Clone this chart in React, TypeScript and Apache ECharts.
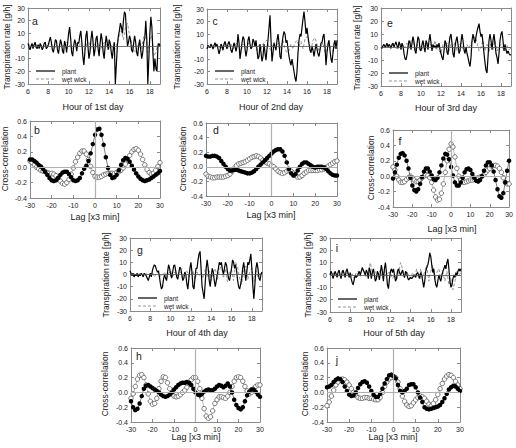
import React, { useEffect, useRef } from "react";
import * as echarts from "echarts";

// ---------- data ----------
const HOUR_START = 6;
const HOUR_END = 19;
const PLANT_STEP = 0.1;
const WICK_STEP = 0.2;
const LAG_MIN = -30;
const LAG_MAX = 30;

const dayTitles = ["Hour of 1st day", "Hour of 2nd day", "Hour of 3rd day", "Hour of 4th day", "Hour of 5th day"];
const seriesNames = ["plant", "wet wick"];
const yTitleTs = "Transpiration rate [g/h]";
const yTitleCc = "Cross-correlation";
const xTitleCc = "Lag [x3 min]";

// plant transpiration, every 0.1 h from 6 to 19
const plantDay1 = [
  2, -1, -3, 0, 2, -2, 1, 3, -1, -2,
  1, -2, 2, 0, -3, -1, 2, 3, -2, -1,
  1, 4, 7, 3, -3, -5, 0, 5, 4, -3,
  -6, 0, 5, 2, -4, -6, 4, 1, -5, 2,
  10, 15, 6, -5, -8, 0, 5, 2, -4, 3,
  2, 8, 12, 3, -8, -15, -5, 8, 12, 0,
  -10, -5, 5, 12, 4, -8, -3, 6, 8, -2,
  -8, 2, 10, 5, -5, -10, 0, 8, 3, -3,
  5, 2, -5, -10, -2, 3, -30, -15, 0, 8,
  12, 18, 15, 10, 20, 27, 25, 10, 0, 3,
  8, 5, -3, -5, 2, 8, 3, -5, -8, 0,
  5, -3, -10, -5, 3, 6, 20, 5, -30, -10,
  10, 23, 15, -5, -20, -10, -18, -20, 0, 2,
  0,
];
const plantDay2 = [
  -2, 1, 0, -1, 2, 0, -2, 1, 3, 0,
  2, -2, -6, -3, 2, 0, -3, 2, 4, 1,
  -2, 2, 4, 1, -3, -5, -1, 3, 0, -4,
  0, 10, 3, -10, -4, 3, 8, 6, -2, -8,
  -3, 5, 8, 2, -2, 0, 6, 4, 0, 5,
  -3, -10, -8, 2, -5, -12, -8, 2, -5, -11,
  -2, 5, 15, 25, 5, -12, -5, 3, 0, -3,
  5, 10, 3, -8, -10, 2, 8, 12, 10, 3,
  5, -2, -8, -12, -15, -10, -15, -20, -25, -28,
  -20, -5, 5, 10, 8, 15, 22, 28, 20, 10,
  15, 8, 2, -3, -5, 0, -3, -8, -3, 2,
  -2, -6, -8, -3, 3, 3, 8, 10, 0, -15,
  -5, 2, 5, -3, -10, -13, -5, 2, 5, -2,
  5,
];
const plantDay3 = [
  0, -1, 1, 2, 0, 1, 3, 0, 2, 1,
  -1, 2, 3, 0, 2, 4, 1, -1, 4, 2,
  -2, 3, 1, -5, -9, -10, -6, 0, 5, 3,
  -2, 3, 8, 4, -3, -5, 2, 8, 6, -2,
  -3, 2, 5, 0, -4, 5, 3, -2, 5, 10,
  3, -3, 2, 0, 1, -1, 2, 0, 3, -2,
  -5, -8, -10, -3, 5, 3, -4, -6, 2, 8,
  10, 3, -5, -8, 0, 5, 8, 2, -5, -3,
  4, 10, 5, -2, -5, 0, -5, -8, -12, -15,
  -8, 5, 10, 6, 3, 8, 12, 15, 18, 12,
  8, 10, 3, -5, -12, -18, -20, -8, 5, 10,
  5, -2, 5, 10, 3, -5, -8, -13, -5, 5,
  10, 12, 5, -3, 2, -2, -5, -3, -5, -6,
  -6,
];
const plantDay4 = [
  3, 1, -1, 1, -2, 0, -1, 1, -2, 0,
  -1, 1, 0, -2, 1, 0, -1, -3, -5, -2,
  1, -2, 3, 6, 8, 7, 4, 2, 3, -2,
  -8, -12, -10, -4, 0, -3, -5, 2, 8, 5,
  0, -3, 2, 7, 8, 3, -2, -4, 1, 6,
  5, 0, -5, -3, 2, 0, -8, -12, -3, 5,
  10, 2, -10, -12, -3, 5, 5, 12, 17, 19,
  5, -10, -15, -20, -8, 5, 12, 5, -5, -10,
  -2, 5, 2, -5, -10, -5, 0, 5, 10, 8,
  10, 4, 0, 5, 10, 8, 2, -3, -5, 0,
  5, 12, 10, 5, 8, 3, -5, -10, -12, -8,
  -3, 5, 10, 3, -5, 2, 10, 8, 12, 17,
  5, -10, -20, -8, 5, 10, 5, -3, -5, 0,
  2,
];
const plantDay5 = [
  0, 3, 1, -3, 0, 3, 1, -2, 2, 4,
  0, -3, 2, 4, 1, -2, 3, 5, 1, -2,
  2, -3, -6, -8, -4, 0, -2, -1, 1, 3,
  0, 3, 6, 4, 2, 0, 4, 2, -3, 6,
  3, -3, 2, 5, 0, -5, -3, 3, 1, -4,
  2, 8, 3, -5, 5, 10, 2, -8, -11, -3,
  3, 5, 2, 5, 0, -5, -3, 3, 5, 2,
  0, 2, 4, 0, -2, 3, 2, -2, -4, -3,
  -2, -3, -2, -1, 0, -2, 1, 2, 0, -3,
  2, 0, -5, -10, -5, 3, 6, 8, 12, 18,
  15, 8, 2, 5, -3, -8, -10, -5, 0, -3,
  -5, 0, 3, 5, 8, 5, 10, 13, 5, -5,
  -10, -8, -3, 0, -2, 2, 0, 3, 5, 3,
  5,
];

// wet wick evaporation, every 0.2 h from 6 to 19
const wickDay1 = [
  0, 1, -1, 0, 1, 0, -1, 1, 0, -1, 1, 2, 0, -2, 1, -1, 2, 0, 1, 3,
  2, -1, -2, 1, 2, 0, 2, -1, -3, 2, 3, -2, 0, 2, -1, 1, -2, 2, 3, 0,
  -2, 1, -3, -2, 3, 8, 12, 5, 15, 18, 8, 2, -3, -5, 0, 3, -2, 8, 10, -5,
  5, 8, -8, -5, 2, 0,
];
const wickDay2 = [
  0, -1, 1, 0, -1, 1, 0, -2, 1, 2, -1, 0, 2, -2, 1, 3, -2, -4, 2, 1,
  -1, 3, -2, 0, 2, -3, 1, -2, 2, 4, 5, -1, -3, 2, -2, 1, 3, -3, 5, -2,
  -5, -3, 2, -2, 3, 5, 0, 4, -2, 6, 8, 3, -3, 5, 7, 2, -4, 0, 3, -5,
  -3, 2, -2, -4, 0, 2,
];
const wickDay3 = [
  1, 0, -1, 1, 0, -1, 2, 0, -2, 1, 2, -1, 0, 3, -2, 5, 7, -3, 2, -1,
  1, -2, 3, -1, 0, 2, -1, 5, -2, -3, -5, 2, -1, 3, -3, 2, -1, 4, -3, 1,
  3, -2, -4, 2, -1, 3, 5, 8, 4, -3, 0, 5, -3, 2, -4, 3, -2, 5, -3, 0,
  2, -1, -3, 1, -2, -1,
];
const wickDay4 = [
  -1, 0, 1, -1, 0, 1, -1, 0, 1, -1, 0, 2, -2, 1, 3, -2, 0, 2, -3, 1,
  3, -2, 2, -1, 0, 2, -3, 1, 3, -2, 0, 3, -4, 2, -1, 1, -3, 4, -2, 3,
  -5, 2, 5, -4, 3, 8, -3, 5, -6, 2, 4, -5, 10, 6, -3, -8, 3, 7, -4, 2,
  5, -6, 3, -2, 1, 0,
];
const wickDay5 = [
  1, -1, 2, 0, -2, 1, 3, -1, 0, 2, -2, 1, -3, 2, 3, -1, 5, 3, -2, 3,
  10, 2, 5, -3, 1, 4, -2, 3, -1, 2, 2, -3, 0, -4, 2, 10, 5, -2, 3, 0,
  -3, 2, -2, 5, -3, 5, -2, 3, 8, -5, 3, 8, -4, 2, 5, -3, 2, -5, 3, -8,
  -3, -12, -5, 3, 0, 2,
];

// cross-correlation at lags -30..30 (filled and open symbols)
const ccFilledB = [
  0.10, 0.10, 0.08, 0.06, 0.03, 0.01, -0.02, -0.06, -0.10, -0.14,
  -0.17, -0.18, -0.17, -0.14, -0.10, -0.07, -0.06, -0.06, -0.09, -0.13,
  -0.17, -0.18, -0.17, -0.14, -0.08, -0.02, 0.02, 0.08, 0.18, 0.30,
  0.42,
  0.49, 0.50, 0.42, 0.29, 0.13, -0.01, -0.10, -0.14, -0.13, -0.10,
  -0.04, 0.03, 0.09, 0.12, 0.11, 0.07, 0.02, -0.03, -0.08, -0.12,
  -0.15, -0.17, -0.18, -0.17, -0.16, -0.14, -0.12, -0.10, -0.08, -0.05,
];
const ccOpenB = [
  0.08, 0.06, 0.03, 0.00, -0.02, -0.04, -0.05, -0.06, -0.07, -0.08,
  -0.08, -0.09, -0.11, -0.14, -0.18, -0.21, -0.22, -0.20, -0.16, -0.09,
  -0.01, 0.07, 0.13, 0.18, 0.21, 0.21, 0.17, 0.10, 0.01, -0.07,
  -0.12,
  -0.13, -0.13, -0.12, -0.10, -0.09, -0.08, -0.08, -0.08, -0.08, -0.07,
  -0.06, -0.04, -0.01, 0.04, 0.10, 0.15, 0.20, 0.23, 0.24, 0.22,
  0.17, 0.10, 0.03, -0.03, -0.07, -0.09, -0.08, -0.04, 0.01, 0.06,
];
const ccFilledD = [
  0.15, 0.14, 0.14, 0.15, 0.15, 0.14, 0.12, 0.08, 0.04, 0.00,
  -0.03, -0.05, -0.05, -0.04, -0.04, -0.05, -0.06, -0.07, -0.08, -0.09,
  -0.09, -0.08, -0.06, -0.03, 0.00, 0.03, 0.06, 0.09, 0.12, 0.15,
  0.18,
  0.21, 0.23, 0.24, 0.24, 0.21, 0.15, 0.06, -0.03, -0.09, -0.12,
  -0.10, -0.05, 0.00, 0.04, 0.06, 0.06, 0.04, 0.02, 0.00, -0.01,
  0.00, 0.00, 0.00, -0.01, -0.03, -0.06, -0.09, -0.11, -0.12, -0.12,
];
const ccOpenD = [
  -0.10, -0.13, -0.14, -0.15, -0.15, -0.14, -0.14, -0.14, -0.14, -0.13,
  -0.12, -0.10, -0.06, -0.02, 0.02, 0.04, 0.05, 0.06, 0.07, 0.09,
  0.11, 0.13, 0.14, 0.15, 0.14, 0.12, 0.09, 0.07, 0.05, 0.04,
  0.02,
  0.00, -0.03, -0.06, -0.08, -0.09, -0.08, -0.06, -0.05, -0.06, -0.09,
  -0.12, -0.14, -0.14, -0.12, -0.09, -0.07, -0.05, -0.05, -0.05, -0.05,
  -0.05, -0.04, -0.04, -0.03, -0.01, 0.01, 0.03, 0.05, 0.07, 0.08,
];
const ccFilledF = [
  -0.03, 0.05, 0.15, 0.24, 0.29, 0.30, 0.27, 0.20, 0.10, -0.02,
  -0.12, -0.18, -0.20, -0.17, -0.10, -0.01, 0.06, 0.10, 0.10, 0.06,
  0.01, -0.04, -0.05, -0.02, 0.05, 0.14, 0.23, 0.29, 0.28, 0.22,
  0.12,
  0.01, -0.08, -0.12, -0.12, -0.08, -0.02, 0.05, 0.09, 0.10, 0.08,
  0.03, -0.02, -0.06, -0.07, -0.05, 0.00, 0.07, 0.14, 0.18, 0.18,
  0.14, 0.06, -0.05, -0.17, -0.26, -0.28, -0.22, -0.08, 0.07, 0.20,
];
const ccOpenF = [
  0.12, 0.08, 0.00, -0.05, -0.08, -0.08, -0.07, -0.04, -0.02, 0.00,
  -0.02, -0.05, -0.07, -0.07, -0.05, -0.02, 0.00, 0.02, 0.01, -0.02,
  -0.08, -0.18, -0.27, -0.31, -0.30, -0.22, -0.10, 0.05, 0.20, 0.35,
  0.42,
  0.38, 0.25, 0.10, 0.00, -0.05, -0.08, -0.08, -0.07, -0.06, -0.05,
  -0.05, -0.04, -0.03, -0.02, -0.01, 0.00, 0.02, 0.05, 0.08, 0.10,
  0.13, 0.14, 0.14, 0.13, 0.10, 0.05, -0.02, -0.08, -0.10, -0.10,
];
const ccFilledH = [
  -0.12, -0.20, -0.24, -0.22, -0.15, -0.05, 0.05, 0.09, 0.10, 0.08,
  0.06, 0.04, 0.02, 0.00, -0.03, -0.05, -0.06, -0.05, -0.03, 0.00,
  0.04, 0.07, 0.10, 0.12, 0.13, 0.13, 0.14, 0.13, 0.10, 0.05,
  0.00,
  -0.03, -0.04, -0.02, 0.01, 0.03, 0.04, 0.03, 0.03, 0.05, 0.08,
  0.10, 0.09, 0.07, 0.09, 0.12, 0.08, 0.00, -0.10, -0.17, -0.21,
  -0.23, -0.20, -0.12, -0.04, 0.01, 0.04, 0.04, 0.01, -0.03, -0.06,
];
const ccOpenH = [
  -0.08, -0.02, 0.08, 0.18, 0.23, 0.24, 0.20, 0.10, -0.02, -0.12,
  -0.16, -0.15, -0.08, 0.05, 0.15, 0.21, 0.20, 0.13, 0.05, -0.02,
  -0.05, -0.06, -0.05, -0.03, 0.00, 0.03, 0.07, 0.12, 0.17, 0.20,
  0.20,
  0.15, 0.05, -0.08, -0.22, -0.32, -0.35, -0.33, -0.25, -0.15, -0.10,
  -0.06, -0.06, -0.07, -0.08, -0.05, 0.00, 0.08, 0.15, 0.20, 0.21,
  0.20, 0.15, 0.08, 0.02, -0.02, 0.00, 0.05, 0.08, 0.10, 0.10,
];
const ccFilledJ = [
  0.07, 0.08, 0.10, 0.14, 0.17, 0.19, 0.18, 0.14, 0.08, 0.02,
  -0.03, -0.05, -0.04, 0.00, 0.06, 0.11, 0.14, 0.15, 0.13, 0.08,
  0.02, -0.03, -0.06, -0.06, -0.02, 0.05, 0.12, 0.18, 0.23, 0.24,
  0.22,
  0.19, 0.10, 0.02, 0.00, 0.02, 0.05, 0.10, 0.11, 0.11, 0.07,
  0.00, -0.07, -0.13, -0.20, -0.22, -0.23, -0.22, -0.21, -0.20, -0.19,
  -0.17, -0.13, -0.08, -0.02, 0.04, 0.07, 0.09, 0.08, 0.05, 0.02,
];
const ccOpenJ = [
  -0.18, -0.13, -0.05, 0.03, 0.10, 0.14, 0.17, 0.18, 0.17, 0.14,
  0.10, 0.05, 0.00, -0.04, -0.07, -0.08, -0.08, -0.07, -0.07, -0.08,
  -0.08, -0.09, -0.10, -0.10, -0.07, 0.00, 0.08, 0.14, 0.18, 0.20,
  0.21,
  0.20, 0.14, 0.05, -0.05, -0.12, -0.17, -0.19, -0.18, -0.14, -0.10,
  -0.07, -0.05, -0.06, -0.08, -0.12, -0.16, -0.18, -0.15, -0.10, -0.03,
  0.05, 0.12, 0.18, 0.22, 0.24, 0.23, 0.20, 0.15, 0.10, 0.05,
];

// ---------- layout & styles ----------
const FONT = "'Liberation Sans', Arial, Helvetica, sans-serif";
const FRAME = "#8a8a8a";
const TXT = "#1a1a1a";

type Box = { l: number; t: number; r: number; b: number; xt: number[]; yt: number[]; lt: number[] };
const LAYOUT: Record<string, Box> = {
  a: { l: 28, t: 8, r: 160, b: 84, xt: [93, 107], yt: [7, 47], lt: [35, 21] },
  c: { l: 207, t: 9, r: 337, b: 84, xt: [271, 107], yt: [177, 47], lt: [215, 21] },
  e: { l: 381, t: 8, r: 511, b: 86, xt: [446, 108], yt: [357, 48], lt: [390, 23] },
  g: { l: 130, t: 238, r: 262, b: 311, xt: [197, 333], yt: [106, 275], lt: [140, 250] },
  i: { l: 330, t: 238, r: 461, b: 312, xt: [394, 333], yt: [308, 275], lt: [337, 248] },
  b: { l: 30, t: 121, r: 160, b: 198, xt: [95, 217], yt: [5, 159], lt: [37, 130] },
  d: { l: 206, t: 123, r: 337, b: 196, xt: [271, 215], yt: [183, 159], lt: [216, 130] },
  f: { l: 393, t: 130, r: 511, b: 207, xt: [452, 229], yt: [371, 168], lt: [400, 141] },
  h: { l: 131, t: 348, r: 260, b: 422, xt: [196, 437], yt: [105, 384], lt: [139, 356] },
  j: { l: 327, t: 348, r: 460, b: 422, xt: [393, 437], yt: [305, 384], lt: [337, 360] },
};

type TsPanel = { kind: "ts"; key: string; plant: number[]; wick: number[]; title: string };
type CcPanel = { kind: "cc"; key: string; filled: number[]; open: number[] };
const PANELS: (TsPanel | CcPanel)[] = [
  { kind: "ts", key: "a", plant: plantDay1, wick: wickDay1, title: dayTitles[0] },
  { kind: "ts", key: "c", plant: plantDay2, wick: wickDay2, title: dayTitles[1] },
  { kind: "ts", key: "e", plant: plantDay3, wick: wickDay3, title: dayTitles[2] },
  { kind: "ts", key: "g", plant: plantDay4, wick: wickDay4, title: dayTitles[3] },
  { kind: "ts", key: "i", plant: plantDay5, wick: wickDay5, title: dayTitles[4] },
  { kind: "cc", key: "b", filled: ccFilledB, open: ccOpenB },
  { kind: "cc", key: "d", filled: ccFilledD, open: ccOpenD },
  { kind: "cc", key: "f", filled: ccFilledF, open: ccOpenF },
  { kind: "cc", key: "h", filled: ccFilledH, open: ccOpenH },
  { kind: "cc", key: "j", filled: ccFilledJ, open: ccOpenJ },
];

const toPairs = (vals: number[], start: number, step: number) =>
  vals.map((v, k) => [Math.round((start + k * step) * 100) / 100, v]);

function text(x: number, y: number, s: string, size: number, rot = 0, align = "center") {
  return {
    type: "text",
    x,
    y,
    rotation: rot,
    silent: true,
    style: {
      text: s,
      fontSize: size,
      fontFamily: FONT,
      fill: TXT,
      align,
      verticalAlign: "middle",
      textAlign: align,
      textVerticalAlign: "middle",
    },
  };
}

function buildOption() {
  const grid: any[] = [];
  const xAxis: any[] = [];
  const yAxis: any[] = [];
  const series: any[] = [];
  const elements: any[] = [];

  PANELS.forEach((p, i) => {
    const L = LAYOUT[p.key];
    grid.push({ left: L.l, top: L.t, width: L.r - L.l, height: L.b - L.t, show: false });
    const ts = p.kind === "ts";
    const axisLine = { show: true, onZero: false, lineStyle: { color: FRAME, width: 1 } };
    const tick = { show: true, inside: true, length: 3, lineStyle: { color: FRAME, width: 1 } };
    const label = { fontSize: 7, color: TXT, fontFamily: FONT, margin: 3 };
    const xr = ts ? { min: HOUR_START, max: HOUR_END, interval: 2 } : { min: LAG_MIN, max: LAG_MAX, interval: 10 };
    const yr = ts ? { min: -30, max: 30, interval: 10 } : { min: -0.4, max: 0.6, interval: 0.2 };
    xAxis.push({
      type: "value", gridIndex: i, position: "bottom", ...xr,
      axisLine, axisTick: tick, splitLine: { show: false },
      axisLabel: { ...label, margin: 4, showMaxLabel: !ts },
    });
    xAxis.push({
      type: "value", gridIndex: i, position: "top", ...xr,
      axisLine, axisTick: tick, splitLine: { show: false }, axisLabel: { show: false },
    });
    yAxis.push({
      type: "value", gridIndex: i, position: "left", ...yr,
      axisLine, axisTick: tick, splitLine: { show: false },
      axisLabel: {
        ...label,
        formatter: ts ? (v: number) => String(Math.round(v)) : (v: number) => (Math.abs(v) < 1e-9 ? "0.0" : v.toFixed(1)),
      },
    });
    yAxis.push({
      type: "value", gridIndex: i, position: "right", ...yr,
      axisLine, axisTick: tick, splitLine: { show: false }, axisLabel: { show: false },
    });
    const xi = 2 * i;
    const yi = 2 * i;

    if (p.kind === "ts") {
      series.push({
        type: "line", name: seriesNames[1], xAxisIndex: xi, yAxisIndex: yi,
        data: toPairs(p.wick, HOUR_START, WICK_STEP),
        showSymbol: false, symbol: "none", silent: true, z: 2,
        lineStyle: { color: "#888", width: 0.9, type: [3, 2] },
        markLine: {
          silent: true, symbol: "none", label: { show: false },
          lineStyle: { color: "#555", width: 0.8, type: "solid" },
          data: [{ yAxis: 0 }],
        },
      });
      series.push({
        type: "line", name: seriesNames[0], xAxisIndex: xi, yAxisIndex: yi,
        data: toPairs(p.plant, HOUR_START, PLANT_STEP),
        showSymbol: false, symbol: "none", silent: true, z: 3,
        lineStyle: { color: "#000", width: 1.2 },
      });
      // legend
      const ly1 = L.b - 13;
      const ly2 = L.b - 5;
      elements.push({
        type: "line", silent: true,
        shape: { x1: L.l + 8, y1: ly1, x2: L.l + 27, y2: ly1 },
        style: { stroke: "#000", lineWidth: 1.2 },
      });
      elements.push({
        type: "line", silent: true,
        shape: { x1: L.l + 8, y1: ly2, x2: L.l + 27, y2: ly2 },
        style: { stroke: "#888", lineWidth: 0.9, lineDash: [3, 2] },
      });
      elements.push(text(L.l + 34, ly1, seriesNames[0], 6.5, 0, "left"));
      elements.push(text(L.l + 34, ly2, seriesNames[1], 6.5, 0, "left"));
      elements.push(text(L.xt[0], L.xt[1], p.title, 9));
      elements.push(text(L.yt[0], L.yt[1], yTitleTs, 8.5, Math.PI / 2));
    } else {
      const lags = p.open.map((_, k) => LAG_MIN + k);
      series.push({
        type: "line", name: "open", xAxisIndex: xi, yAxisIndex: yi,
        data: lags.map((x, k) => [x, p.open[k]]),
        symbol: "circle", symbolSize: 4.5, showSymbol: true, silent: true, z: 2,
        lineStyle: { color: "#777", width: 0.5 },
        itemStyle: { color: "#fff", borderColor: "#555", borderWidth: 0.8 },
        markLine: {
          silent: true, symbol: "none", label: { show: false },
          lineStyle: { color: "#b0b0b0", width: 1.2, type: "solid" },
          data: [{ yAxis: 0 }, { xAxis: 0 }],
        },
      });
      series.push({
        type: "line", name: "filled", xAxisIndex: xi, yAxisIndex: yi,
        data: lags.map((x, k) => [x, p.filled[k]]),
        symbol: "circle", symbolSize: 4.5, showSymbol: true, silent: true, z: 3,
        lineStyle: { color: "#000", width: 0.5 },
        itemStyle: { color: "#000", borderColor: "#000", borderWidth: 0 },
      });
      elements.push(text(L.xt[0], L.xt[1], xTitleCc, 9));
      elements.push(text(L.yt[0], L.yt[1], yTitleCc, 8.5, Math.PI / 2));
    }
    elements.push(text(L.lt[0], L.lt[1], p.key, 10.5));
  });

  return {
    animation: false,
    backgroundColor: "#fff",
    grid,
    xAxis,
    yAxis,
    series,
    graphic: { elements },
  };
}

export default function App() {
  const ref = useRef<HTMLDivElement>(null);
  useEffect(() => {
    if (!ref.current) return;
    const chart = echarts.init(ref.current, null, { renderer: "svg", width: 516, height: 448 });
    chart.setOption(buildOption() as any);
    return () => chart.dispose();
  }, []);
  return (
    <div
      ref={ref}
      style={{ position: "absolute", left: 0, top: 0, width: 516, height: 448, background: "#fff" }}
    />
  );
}
